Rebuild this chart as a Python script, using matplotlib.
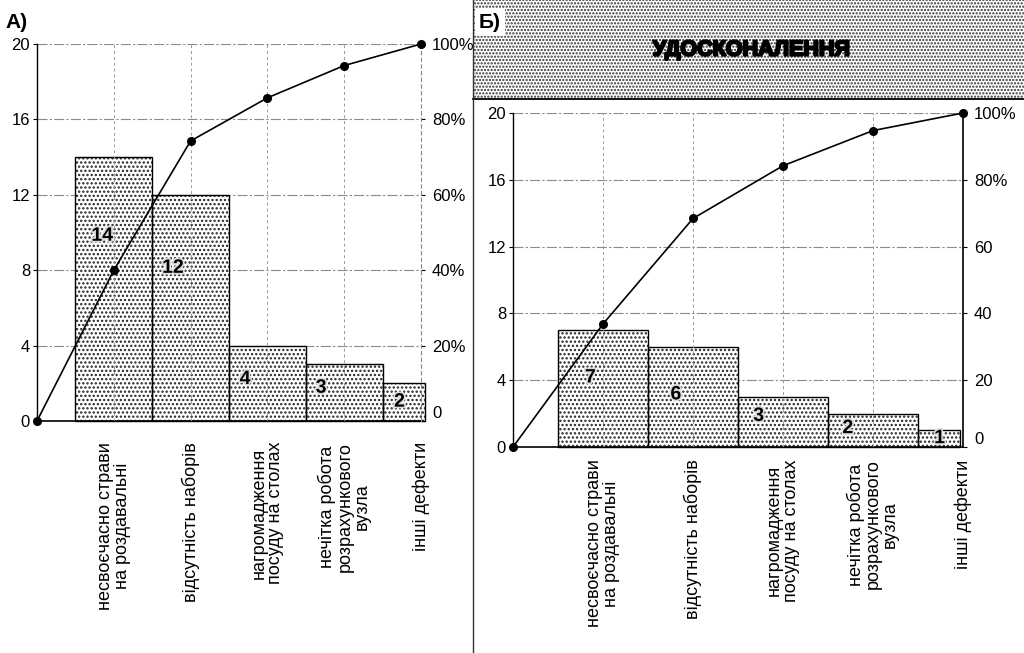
import numpy as np
import matplotlib
matplotlib.use("Agg")
import matplotlib.pyplot as plt
import matplotlib.patheffects as pe
from matplotlib.patches import Rectangle
from matplotlib.lines import Line2D

plt.rcParams["font.family"] = ["Liberation Sans", "DejaVu Sans"]
plt.rcParams["hatch.linewidth"] = 1.1

categories = [
    "несвоєчасно страви\nна роздавальні",
    "відсутність наборів",
    "нагромадження\nпосуду на столах",
    "нечітка робота\nрозрахункового\nвузла",
    "інші дефекти",
]
before = [14, 12, 4, 3, 2]
after = [7, 6, 3, 2, 1]
left_ticks = [0, 4, 8, 12, 16, 20]
right_ticks = [0, 20, 40, 60, 80, 100]
right_labels_a = ["0", "20%", "40%", "60%", "80%", "100%"]
right_labels_b = ["0", "20", "40", "60", "80%", "100%"]


def pareto(ax, counts, right_labels, last_width, lab_pos, right_dashed, xpad):
    n = len(counts)
    centers = np.arange(1, n + 1)
    widths = [1.0] * (n - 1) + [last_width]
    lefts = centers - 0.5

    ax.set_xlim(0, n)
    ax.set_ylim(0, 20)
    for y in left_ticks[1:]:
        ax.axhline(y, color="#8a8a8a", lw=0.8, ls=(0, (9, 2, 2, 2)), zorder=0)

    # stippled bars, then their outlines
    ax.bar(lefts, counts, width=widths, align="edge", color="white",
           edgecolor="#222222", hatch="....", lw=0, zorder=2, clip_on=False)
    ax.bar(lefts, counts, width=widths, align="edge", fill=False,
           edgecolor="black", lw=1.0, zorder=3, clip_on=False)

    for c in centers[:-1]:
        ax.axvline(c, color="#999999", lw=0.7, ls=(0, (3, 3)), zorder=3.5)

    for c, v, (dx, fy) in zip(centers, counts, lab_pos):
        ax.text(c + dx, v * fy, str(v), ha="center", va="center",
                fontsize=14, fontweight="bold", zorder=4,
                path_effects=[pe.withStroke(linewidth=2.5, foreground="#dddddd")])

    ax.set_yticks(left_ticks)
    ax.tick_params(axis="y", labelsize=12, length=3, pad=2)
    ax.set_xticks(centers)
    ax.set_xticklabels(categories, rotation=90, fontsize=13,
                       multialignment="center", linespacing=1.0)
    ax.tick_params(axis="x", length=0, pad=xpad)
    ax.spines["top"].set_visible(False)
    ax.spines["right"].set_visible(False)
    ax.spines["left"].set_linewidth(1.0)
    ax.spines["bottom"].set_linewidth(1.2)

    # cumulative percentage on the right scale
    ax2 = ax.twinx()
    ax2.set_ylim(0, 100)
    cum = np.concatenate([[0], np.cumsum(counts) / np.sum(counts) * 100])
    ax2.plot(np.arange(0, n + 1), cum, color="black", lw=1.2,
             marker="o", markersize=5.5, clip_on=False, zorder=5)
    ax2.set_yticks(right_ticks)
    ax2.set_yticklabels(right_labels)
    ax2.tick_params(axis="y", labelsize=12, length=3, pad=5)
    ax2.get_yticklabels()[0].set_va("bottom")
    for s in ["top", "left", "bottom"]:
        ax2.spines[s].set_visible(False)
    if right_dashed:
        ax2.spines["right"].set_color("#888888")
        ax2.spines["right"].set_linestyle((0, (3, 3)))
        ax2.spines["right"].set_linewidth(0.8)
    else:
        ax2.spines["right"].set_linewidth(1.2)
    return ax2


fig = plt.figure(figsize=(10.24, 6.53), dpi=100)

axA = fig.add_axes([37 / 1024, 1 - 421 / 653, 384 / 1024, 377 / 653])
pareto(axA, before, right_labels_a, 0.55,
       [(-0.15, 0.70), (-0.23, 0.675), (-0.29, 0.55), (-0.30, 0.58), (-0.28, 0.5)],
       True, 15)
fig.text(5 / 1024, 1 - 22 / 653, "А)", fontsize=15, fontweight="bold",
         ha="left", va="center")

axB = fig.add_axes([513 / 1024, 1 - 447 / 653, 450 / 1024, 334 / 653])
pareto(axB, after, right_labels_b, 0.47,
       [(-0.14, 0.59), (-0.19, 0.52), (-0.27, 0.61), (-0.28, 0.55), (-0.26, 0.5)],
       False, 9)

# header band over the right panel
x0, yb = 473 / 1024, 1 - 99 / 653
fig.patches.append(Rectangle((x0, yb), 1 - x0, 1 - yb, transform=fig.transFigure,
                             facecolor="white", edgecolor="#333333",
                             hatch=".....", lw=0, zorder=0))
fig.add_artist(Line2D([x0, 1], [yb, yb], color="black", lw=1.3))
fig.add_artist(Line2D([x0, x0], [0, 1], color="#333333", lw=1.0))
fig.text(479 / 1024, 1 - 22 / 653, "Б)", fontsize=15, fontweight="bold",
         ha="left", va="center",
         bbox=dict(facecolor="white", edgecolor="none", pad=3))
fig.text(751 / 1024, 1 - 50 / 653, "УДОСКОНАЛЕННЯ", fontsize=15.5,
         fontweight="bold", ha="center", va="center",
         path_effects=[pe.withStroke(linewidth=1.6, foreground="black")])

fig.savefig("out.png", dpi=100)
